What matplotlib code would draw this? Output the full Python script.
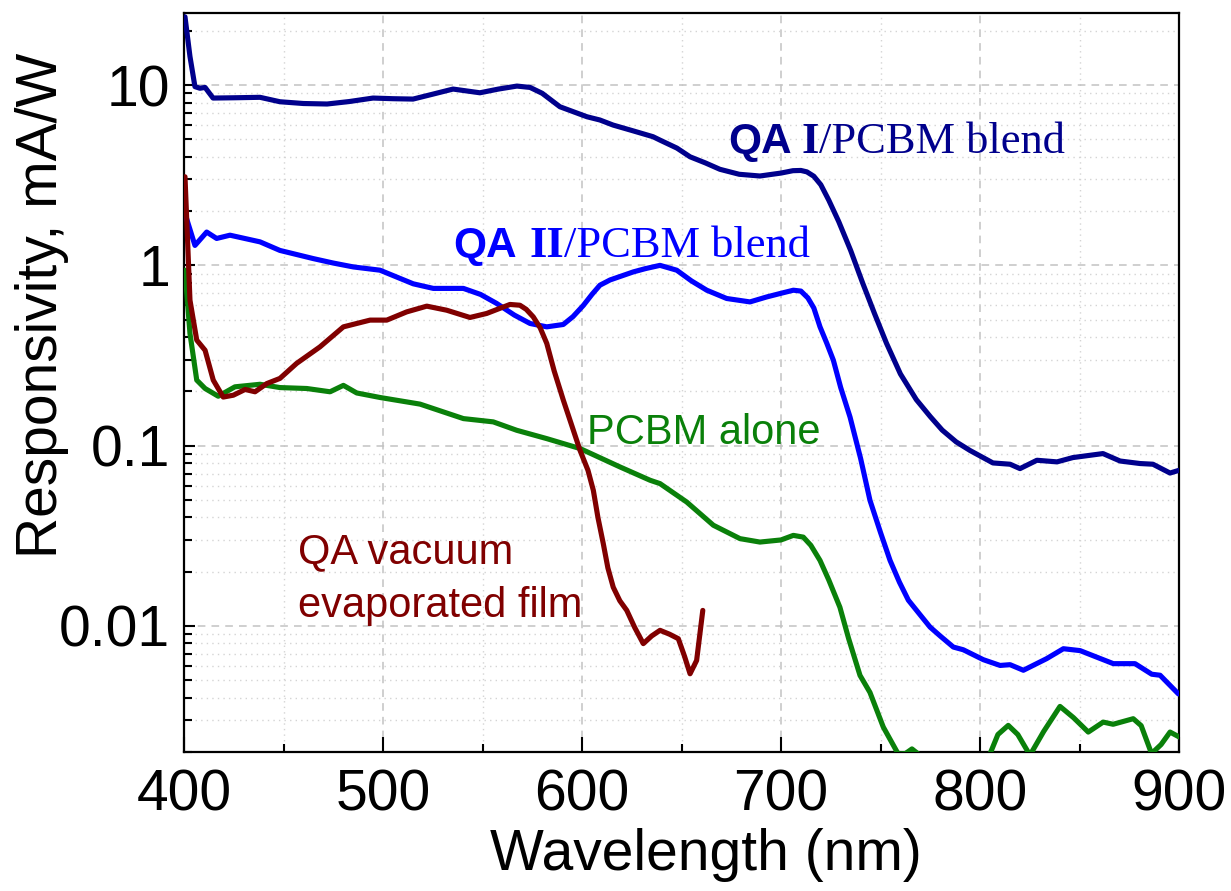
import numpy as np
import matplotlib
matplotlib.use("Agg")
import matplotlib.pyplot as plt
from matplotlib.ticker import FixedLocator, FixedFormatter, LogLocator, NullFormatter, MultipleLocator
from matplotlib import transforms

plt.rcParams['font.family'] = ['Liberation Sans', 'DejaVu Sans']

# ---------------- data (wavelength nm, responsivity mA/W) ----------------
qa1_wl = [400.5, 403.0, 405.5, 408.0, 410.6, 414.6, 425.0, 438.2, 448.2, 460.0, 471.9, 483.0, 495.0,
          505.0, 515.1, 525.0, 535.2, 548.7, 558.0, 567.3, 573.9, 580.0, 588.9, 602.5, 609.0, 615.6,
          625.0, 635.7, 639.2, 647.7, 654.3, 662.0, 669.3, 679.0, 689.4, 700.0, 706.0, 710.0, 713.0,
          716.5, 720.0, 724.0, 729.0, 735.0, 741.0, 747.0, 753.0, 760.0, 768.0, 775.0, 781.0, 788.0,
          795.0, 806.5, 815.1, 820.1, 828.6, 838.7, 846.7, 861.8, 870.4, 880.4, 886.9, 895.5, 900.0]
qa1_val = [23.9, 14.4, 9.8, 9.6, 9.7, 8.47, 8.5, 8.55, 8.08, 7.9, 7.85, 8.1, 8.47,
           8.4, 8.36, 8.9, 9.5, 9.06, 9.5, 9.87, 9.7, 9.0, 7.58, 6.67, 6.4, 6.0,
           5.6, 5.17, 4.95, 4.47, 4.0, 3.7, 3.41, 3.2, 3.13, 3.25, 3.35, 3.36, 3.3,
           3.12, 2.8, 2.3, 1.75, 1.21, 0.80, 0.54, 0.37, 0.25, 0.18, 0.145, 0.122, 0.105,
           0.094, 0.0802, 0.0789, 0.0746, 0.083, 0.0813, 0.0859, 0.0904, 0.0822, 0.0796, 0.0789, 0.0705, 0.073]

qa2_wl = [400.5, 405.5, 411.4, 416.4, 423.1, 438.2, 448.2, 465.0, 475.0, 485.1, 498.5, 515.2, 525.3,
          540.4, 549.0, 557.1, 566.0, 573.9, 582.3, 590.6, 595.5, 600.7, 605.0, 609.0, 614.1, 625.8,
          632.0, 639.2, 647.6, 655.0, 662.7, 672.7, 684.4, 692.8, 700.0, 706.2, 710.0, 713.5, 716.5,
          719.6, 723.0, 726.3, 730.0, 734.7, 740.0, 744.7, 750.0, 754.8, 759.5, 764.0, 770.0, 774.9,
          780.0, 786.6, 791.6, 801.7, 810.1, 815.1, 821.8, 833.5, 841.9, 850.3, 867.0, 877.9, 886.3,
          890.5, 899.7]
qa2_val = [1.94, 1.29, 1.53, 1.41, 1.47, 1.35, 1.21, 1.09, 1.03, 0.98, 0.94, 0.79, 0.745,
           0.745, 0.69, 0.615, 0.53, 0.476, 0.456, 0.47, 0.52, 0.6, 0.69, 0.776, 0.83, 0.92,
           0.96, 1.0, 0.94, 0.82, 0.728, 0.655, 0.627, 0.668, 0.70, 0.728, 0.72, 0.66, 0.58,
           0.456, 0.37, 0.298, 0.21, 0.144, 0.085, 0.0498, 0.033, 0.0231, 0.0175, 0.0139, 0.0115, 0.00986,
           0.0088, 0.00764, 0.00738, 0.0065, 0.00604, 0.0061, 0.00568, 0.00659, 0.00748, 0.0073, 0.00618, 0.00618, 0.0054,
           0.00533, 0.0042]

pcbm_wl = [400.5, 403.0, 406.4, 410.6, 417.2, 425.6, 438.2, 448.2, 461.7, 473.4, 480.1, 486.8, 498.5,
           518.6, 540.4, 555.4, 567.2, 582.3, 599.0, 619.1, 634.2, 639.2, 652.6, 666.0, 679.4, 689.4,
           700.0, 706.2, 711.2, 715.0, 719.6, 724.0, 729.6, 734.0, 739.7, 744.7, 751.4, 758.9, 762.5,
           765.8, 769.0, 774.9, 790.0, 800.0, 805.0, 809.0, 814.2, 819.0, 825.1, 832.0, 840.2, 847.0,
           854.4, 861.9, 866.9, 877.0, 881.0, 886.2, 891.0, 895.5, 900.2]
pcbm_val = [0.94, 0.419, 0.231, 0.2075, 0.188, 0.212, 0.219, 0.21, 0.2075, 0.199, 0.216, 0.196, 0.185,
            0.170, 0.1413, 0.1355, 0.1217, 0.1094, 0.0964, 0.0762, 0.0643, 0.0616, 0.0487, 0.0362, 0.0305, 0.0292,
            0.030, 0.0318, 0.0311, 0.028, 0.0231, 0.018, 0.0127, 0.0085, 0.00532, 0.00428, 0.00275, 0.00195, 0.00196,
            0.00208, 0.00195, 0.0015, 0.0013, 0.0016, 0.00195, 0.0025, 0.00281, 0.0025, 0.00192, 0.0026, 0.00358, 0.0031,
            0.00258, 0.00293, 0.00285, 0.00306, 0.0028, 0.00196, 0.0022, 0.00258, 0.00242]

qav_wl = [400.5, 403.0, 406.4, 410.6, 414.7, 419.7, 424.8, 430.7, 435.7, 441.6, 448.2, 456.6, 468.3,
          480.1, 493.5, 501.9, 511.9, 522.0, 532.0, 543.7, 552.1, 563.8, 568.8, 572.0, 575.5, 579.0,
          582.3, 586.0, 590.6, 595.0, 599.0, 603.0, 605.7, 608.0, 610.7, 613.0, 615.7, 619.0, 622.5,
          626.5, 630.8, 635.0, 639.2, 644.0, 648.4, 651.5, 654.3, 657.6, 660.7]
qav_val = [3.1, 0.641, 0.385, 0.338, 0.231, 0.186, 0.1905, 0.205, 0.199, 0.221, 0.236, 0.286, 0.353,
           0.456, 0.497, 0.497, 0.552, 0.594, 0.564, 0.514, 0.541, 0.607, 0.601, 0.57, 0.518, 0.45,
           0.369, 0.26, 0.179, 0.128, 0.0942, 0.073, 0.0565, 0.04, 0.0286, 0.021, 0.0164, 0.0138, 0.0122,
           0.0098, 0.00798, 0.0088, 0.00946, 0.0090, 0.0085, 0.0068, 0.00543, 0.00644, 0.0122]

x_ticks = [400, 500, 600, 700, 800, 900]
x_tick_labels = ['400', '500', '600', '700', '800', '900']
y_ticks = [0.01, 0.1, 1, 10]
y_tick_labels = ['0.01', '0.1', '1', '10']

c_navy = '#00008C'
c_blue = '#0000FF'
c_green = '#0A800A'
c_red = '#800000'

# ---------------- figure ----------------
fig = plt.figure(figsize=(12.31, 8.91), dpi=100)
ax = fig.add_axes([184 / 1231, 1 - 752 / 891, (1179 - 184) / 1231, (752 - 13.3) / 891])

lw = 3.7
for xs, ys, c in [(qa1_wl, qa1_val, c_navy), (qa2_wl, qa2_val, c_blue),
                  (pcbm_wl, pcbm_val, c_green), (qav_wl, qav_val, c_red)]:
    ax.plot(xs, ys, color=c, lw=lw, solid_joinstyle='round', solid_capstyle='round', zorder=3)

ax.set_yscale('log')
ax.set_xlim(400, 900)
ax.set_ylim(0.002, 25)

ax.xaxis.set_major_locator(FixedLocator(x_ticks))
ax.xaxis.set_major_formatter(FixedFormatter(x_tick_labels))
ax.xaxis.set_minor_locator(MultipleLocator(50))
ax.yaxis.set_major_locator(FixedLocator(y_ticks))
ax.yaxis.set_major_formatter(FixedFormatter(y_tick_labels))
ax.yaxis.set_minor_locator(LogLocator(base=10, subs=np.arange(2, 10), numticks=20))
ax.yaxis.set_minor_formatter(NullFormatter())

ax.tick_params(axis='both', which='both', direction='in', top=False, right=False, width=1.5, color='black')
ax.tick_params(axis='x', which='major', length=11, pad=12, labelsize=41)
ax.tick_params(axis='x', which='minor', length=6)
ax.tick_params(axis='y', which='major', length=8, pad=10, labelsize=41)
ax.tick_params(axis='y', which='minor', length=6)

for s in ax.spines.values():
    s.set_linewidth(1.6)
    s.set_color('black')

ax.set_axisbelow(True)
ax.grid(True, which='major', color='#C2C2C2', linestyle=(0, (5, 4)), linewidth=1.1)
ax.grid(True, which='minor', color='#D4D4D4', linestyle=(0, (1, 3)), linewidth=1.0)

ax.set_xlabel('Wavelength (nm)', fontsize=41)
ax.xaxis.set_label_coords(0.5246, -0.103)
ax.set_ylabel('Responsivity, mA/W', fontsize=41)
ax.yaxis.set_label_coords(-0.116, 0.605)

# ---------------- annotations ----------------
renderer = fig.canvas.get_renderer()


def rich_text(x, y, pieces, color):
    dx = 0.0
    for txt, props, gap in pieces:
        dx += gap
        tr = transforms.offset_copy(ax.transData, fig=fig, x=dx, y=0, units='dots')
        t = ax.text(x, y, txt, transform=tr, color=color, va='baseline', ha='left', zorder=5, **props)
        bb = t.get_window_extent(renderer)
        dx += bb.width


sans_bold = dict(family=['Liberation Sans', 'DejaVu Sans'], fontweight='bold', fontsize=30.5)
serif_bold = dict(family=['Liberation Serif', 'DejaVu Serif'], fontweight='bold', fontsize=32)
serif = dict(family=['Liberation Serif', 'DejaVu Serif'], fontsize=32)

rich_text(673.5, 4.2, [('QA', sans_bold, 0), ('I', serif_bold, 10), ('/PCBM blend', serif, 0)], c_navy)
rich_text(535.5, 1.115, [('QA', sans_bold, 0), ('II', serif_bold, 12), ('/PCBM blend', serif, 0)], c_blue)

ax.text(602.5, 0.1028, 'PCBM alone', color=c_green, fontsize=30, va='baseline', ha='left', zorder=5)
ax.text(457.3, 0.02223, 'QA vacuum', color=c_red, fontsize=30, va='baseline', ha='left', zorder=5)
ax.text(457.3, 0.01119, 'evaporated film', color=c_red, fontsize=30, va='baseline', ha='left', zorder=5)

fig.savefig('out.png', dpi=100)
